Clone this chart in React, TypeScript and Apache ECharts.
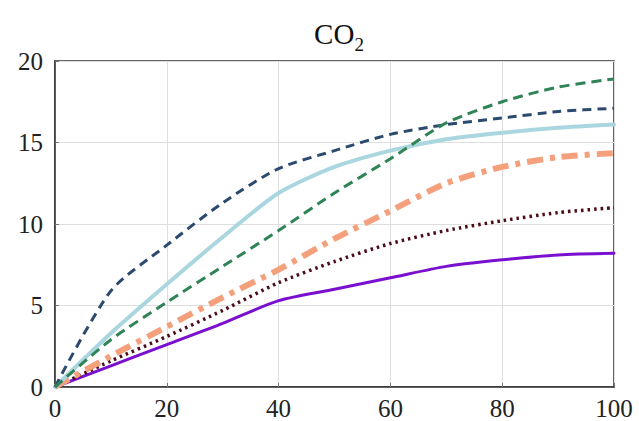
import React, { useEffect, useRef } from "react";
import * as echarts from "echarts";

const xs = [0, 10, 20, 30, 40, 50, 60, 70, 80, 90, 100];
const navy = [0, 5.9, 8.7, 11.3, 13.4, 14.5, 15.5, 16.1, 16.5, 16.9, 17.1];
const lightBlue = [0, 3.3, 6.3, 9.2, 11.9, 13.5, 14.5, 15.2, 15.6, 15.9, 16.1];
const green = [0, 2.9, 5.2, 7.4, 9.6, 11.9, 14.0, 16.2, 17.5, 18.4, 18.9];
const orange = [0, 1.9, 3.7, 5.5, 7.2, 9.1, 10.8, 12.5, 13.5, 14.1, 14.35];
const dotted = [0, 1.6, 3.1, 4.7, 6.4, 7.7, 8.8, 9.6, 10.2, 10.7, 11.0];
const purple = [0, 1.3, 2.6, 3.9, 5.3, 6.0, 6.7, 7.4, 7.8, 8.1, 8.2];

const xTicks = [0, 20, 40, 60, 80, 100];
const yTicks = [0, 5, 10, 15, 20];

const FONT = "'Liberation Serif', 'Times New Roman', Times, serif";

const pairs = (ys: number[]) => xs.map((x, i) => [x, ys[i]]);

export default function App() {
  const ref = useRef<HTMLDivElement>(null);
  useEffect(() => {
    if (!ref.current) return;
    const chart = echarts.init(ref.current, undefined, { renderer: "svg" });
    const mk = (
      name: string,
      data: number[],
      color: string,
      width: number,
      type: any,
      cap: any = "butt"
    ) => ({
      name,
      type: "line",
      data: pairs(data),
      showSymbol: false,
      symbol: "none",
      smooth: 0.25,
      lineStyle: { color, width, type, cap },
    });
    chart.setOption({
      animation: false,
      backgroundColor: "#ffffff",
      title: {
        text: "{a|CO}{b|2}",
        left: 334,
        top: 14,
        textAlign: "center",
        textStyle: {
          rich: {
            a: { fontFamily: FONT, fontSize: 29, fontWeight: "normal", color: "#111", verticalAlign: "bottom" },
            b: { fontFamily: FONT, fontSize: 19, fontWeight: "normal", color: "#111", verticalAlign: "bottom", padding: [0, 0, -6, 0] },
          },
        },
      },
      grid: {
        left: 55,
        right: 25,
        top: 61,
        bottom: 34,
        show: true,
        borderColor: "#333",
        borderWidth: 1.5,
      },
      xAxis: {
        type: "value",
        min: 0,
        max: 100,
        interval: 20,
        axisLine: { show: true, lineStyle: { color: "#333", width: 1.5 } },
        axisTick: { show: true, inside: true, length: 4, lineStyle: { color: "#777" } },
        axisLabel: {
          fontFamily: FONT,
          fontSize: 25,
          color: "#222",
          margin: 9,
          customValues: xTicks,
        },
        splitLine: { show: true, lineStyle: { color: "#dedede", width: 1 } },
      },
      yAxis: {
        type: "value",
        min: 0,
        max: 20,
        interval: 5,
        axisLine: { show: true, lineStyle: { color: "#333", width: 1.5 } },
        axisTick: { show: true, inside: true, length: 4, lineStyle: { color: "#777" } },
        axisLabel: {
          fontFamily: FONT,
          fontSize: 25,
          color: "#222",
          margin: 12,
          customValues: yTicks,
        },
        splitLine: { show: true, lineStyle: { color: "#dedede", width: 1 } },
      },
      series: [
        mk("purple", purple, "#7a0fcf", 3, "solid", "round"),
        mk("dotted", dotted, "#4a0c18", 3.5, [2.5, 4]),
        mk("orange", orange, "#f4a07c", 6, [16, 7, 5, 7]),
        mk("lightBlue", lightBlue, "#a9d6df", 4, "solid", "round"),
        mk("navy", navy, "#2c4a6e", 3, [9, 6]),
        mk("green", green, "#2f8455", 3, [10, 6]),
      ],
    });
    return () => chart.dispose();
  }, []);
  return (
    <div
      ref={ref}
      style={{ position: "fixed", left: 0, top: 0, width: 639, height: 421, background: "#fff" }}
    />
  );
}
